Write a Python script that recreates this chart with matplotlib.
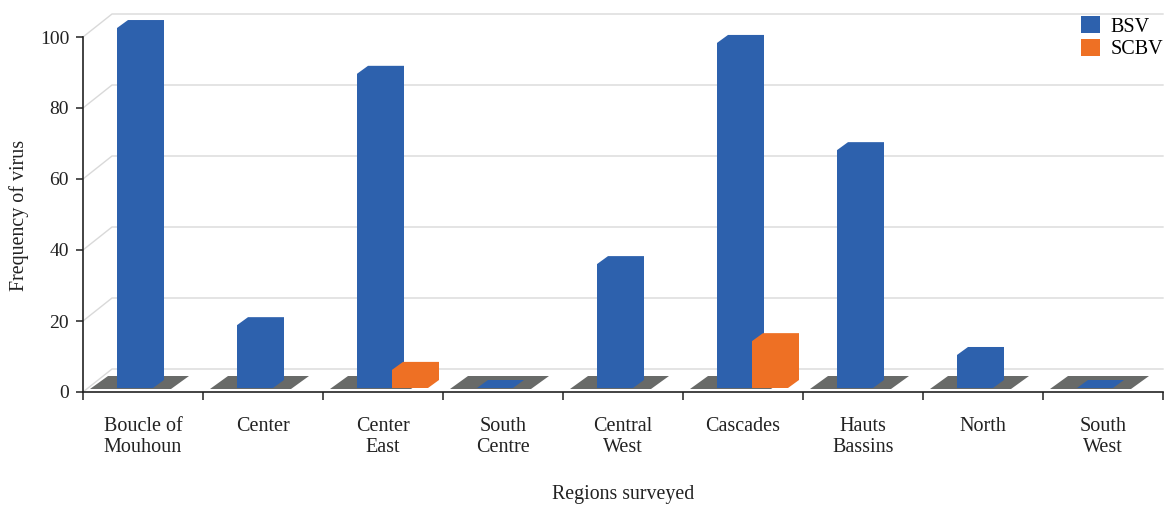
import matplotlib
matplotlib.use("Agg")
import matplotlib.pyplot as plt
from matplotlib.patches import Polygon, Patch

# data
regions = ["Boucle of\nMouhoun", "Center", "Center\nEast", "South\nCentre",
           "Central\nWest", "Cascades", "Hauts\nBassins", "North", "South\nWest"]
bsv = [101.4, 17.7, 88.5, 0, 34.9, 97.2, 67.0, 9.3, 0]
scbv = [0, 0, 5.1, 0, 0, 13.2, 0, 0, 0]
series_names = ["BSV", "SCBV"]
series_colors = ["#2D61AD", "#EE7024"]
yticks = [0, 20, 40, 60, 80, 100]

W, H = 1168, 508
plt.rcParams['font.family'] = ['Liberation Serif', 'DejaVu Serif']

fig = plt.figure(figsize=(W / 100, H / 100), dpi=100)
# front plane of the pseudo-3D box, in pixels
left, right, bottom, top = 83, 1163, 392, 37
ax = fig.add_axes([left / W, 1 - bottom / H, (right - left) / W, (bottom - top) / H])
n = len(regions)
ax.set_xlim(0, n)
ax.set_ylim(0, 100)

# pixel -> data unit helpers
pxx = n / (right - left)
pxy = 100 / (bottom - top)

# back wall + side wall gridlines
wdx, wdy = 29 * pxx, 23 * pxy
for v in yticks:
    ax.plot([0, wdx, n], [v, v + wdy, v + wdy], color="#D9D9D9", lw=1,
            clip_on=False, zorder=1)

# grey floor plates
for i in range(n):
    c = i + 0.5
    y0 = 3 * pxy
    x0, x1 = c - 53 * pxx, c + 28 * pxx
    fdx, fdy = 18 * pxx, 13 * pxy
    ax.add_patch(Polygon([(x0, y0), (x0 + fdx, y0 + fdy), (x1 + fdx, y0 + fdy), (x1, y0)],
                         closed=True, facecolor="#686A68", edgecolor="none",
                         clip_on=False, zorder=2))

# bars drawn as single-colour boxes
bw = 36 * pxx
bdx, bdy = 11 * pxx, 8 * pxy
base = 4 * pxy
offsets = [-26 * pxx, 9 * pxx]
for s, vals in enumerate([bsv, scbv]):
    for i, v in enumerate(vals):
        if s == 1 and v == 0:
            continue
        xl = i + 0.5 + offsets[s]
        t = base + v
        pts = [(xl, base), (xl, t), (xl + bdx, t + bdy), (xl + bw + bdx, t + bdy),
               (xl + bw + bdx, base + bdy), (xl + bw, base)]
        ax.add_patch(Polygon(pts, closed=True, facecolor=series_colors[s],
                             edgecolor="none", clip_on=False, zorder=3 + s))

for sp in ["top", "right"]:
    ax.spines[sp].set_visible(False)
for sp in ["left", "bottom"]:
    ax.spines[sp].set_color("#222222")
    ax.spines[sp].set_linewidth(1.2)
    ax.spines[sp].set_zorder(5)

ax.set_yticks(yticks)
ax.tick_params(axis="y", direction="out", length=5, width=1.1, pad=5,
               labelsize=14, color="#222222", labelcolor="#222222")
ax.set_xticks(range(n + 1))
ax.set_xticklabels([])
ax.tick_params(axis="x", which="major", direction="out", length=6, width=1.1,
               color="#222222")
ax.set_xticks([i + 0.5 for i in range(n)], minor=True)
ax.set_xticklabels(regions, minor=True, linespacing=1.15)
ax.tick_params(axis="x", which="minor", length=0, pad=18, labelsize=14.5,
               labelcolor="#222222")

fig.text(623 / W, 1 - 494 / H, "Regions surveyed", ha="center", va="center",
         fontsize=14.3, color="#222222")
fig.text(19 / W, 1 - 215 / H, "Frequency of virus", ha="center", va="center",
         rotation=90, fontsize=14.4, color="#222222")

handles = [Patch(facecolor=col, edgecolor="none", label=lab)
           for lab, col in zip(series_names, series_colors)]
fig.legend(handles=handles, loc="upper left", bbox_to_anchor=(1081 / W, 1 - 16 / H),
           frameon=False, fontsize=14.5, handlelength=0.95, handleheight=0.95,
           handletextpad=0.5, labelspacing=0.1, borderpad=0, borderaxespad=0)

fig.savefig("out.png", dpi=100)
